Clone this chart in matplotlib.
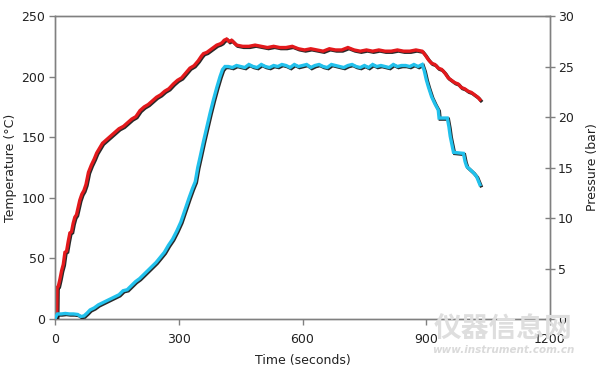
import matplotlib
matplotlib.use("Agg")
import matplotlib.pyplot as plt
import matplotlib.patheffects as pe

# Temperature series (red, left axis)
temp_time = [0, 4, 5, 8, 12, 16, 20, 24, 28, 32, 36, 40, 44, 48, 52, 56, 60, 65, 70, 75,
             81, 88, 95, 101, 108, 115, 125, 135, 145, 155, 166, 176, 186, 196, 206, 216,
             226, 236, 246, 256, 266, 276, 287, 297, 307, 317, 327, 337, 347, 355, 360,
             368, 376, 384, 392, 400, 405, 410, 416, 422, 428, 434,
             440, 455, 470, 485, 500, 515, 530, 545, 560, 575, 590, 605, 620, 635, 650,
             665, 680, 695, 710, 725, 740, 755, 770, 785, 800, 815, 830, 845, 860, 875, 890,
             897, 905, 913, 921, 929, 937, 945, 953, 961, 969, 977, 985, 993, 1001, 1009,
             1017, 1025, 1030]
temp_vals = [0, 0, 26, 27, 33, 40, 45, 55, 56, 64, 71, 72, 79, 84, 86, 92, 98, 103, 106, 111,
             121, 127, 132, 137, 141, 145, 148, 151, 154, 157, 159, 162, 165, 167, 172, 175,
             177, 180, 183, 185, 188, 190, 194, 197, 199, 203, 207, 209, 213, 217, 219,
             220, 222, 224, 226, 227, 228, 230, 231, 229, 230, 228,
             226, 225, 225, 226, 225, 224, 225, 224, 224, 225, 223, 222, 223, 222, 221,
             223, 222, 222, 224, 222, 221, 222, 221, 222, 221, 221, 222, 221, 221, 222, 221,
             218, 214, 211, 210, 207, 206, 203, 199, 197, 195, 194, 191, 190, 188, 187,
             185, 183, 181]

# Pressure series (blue, right axis)
pres_time = [0, 3, 6, 15, 25, 35, 45, 55, 62, 70, 78, 85, 95, 105, 115, 125, 135, 145, 155,
             165, 175, 185, 195, 205, 215, 225, 235, 245, 255, 265, 275, 285, 295, 305, 315,
             325, 333, 340, 346, 352, 360, 368, 376, 384, 392, 400, 406, 412,
             420, 430, 440, 450, 460, 470, 480, 490, 500, 510, 520, 530, 540, 550, 560, 570,
             580, 590, 600, 610, 620, 630, 640, 650, 660, 670, 680, 690, 700, 710, 720, 730,
             740, 750, 760, 770, 780, 790, 800, 810, 820, 830, 840, 850, 860, 870, 880, 890,
             895, 900, 905, 913, 921, 929, 931, 951, 955, 958, 962, 966, 990, 994, 998, 1006,
             1014, 1022, 1026, 1030]
pres_vals = [0, 0.3, 0.5, 0.5, 0.55, 0.5, 0.5, 0.45, 0.25, 0.3, 0.6, 0.9, 1.1, 1.4, 1.6, 1.8,
             2.0, 2.2, 2.4, 2.8, 2.9, 3.3, 3.7, 4.0, 4.4, 4.8, 5.2, 5.6, 6.1, 6.6, 7.3, 7.9,
             8.7, 9.6, 10.8, 12.0, 12.9, 13.6, 15.0, 16.1, 17.6, 19.0, 20.4, 21.7, 22.9, 24.0,
             24.7, 25.0,
             25.0, 24.9, 25.1, 25.0, 24.9, 25.2, 25.0, 24.9, 25.2, 25.0, 24.9, 25.1, 25.0, 25.2,
             25.1, 24.9, 25.2, 25.0, 25.1, 25.2, 24.9, 25.1, 25.2, 25.0, 24.9, 25.2, 25.1, 25.0,
             24.9, 25.1, 25.2, 25.0, 24.9, 25.1, 24.9, 25.2, 25.0, 25.1, 25.0, 24.9, 25.2, 25.0,
             25.1, 25.1, 25.0, 25.2, 25.0, 25.2,
             24.6, 23.7, 23.0, 22.0, 21.3, 20.7, 19.9, 19.9, 19.0, 18.1, 17.3, 16.5, 16.4, 15.6,
             15.1, 14.8, 14.5, 14.1, 13.7, 13.3]

x_ticks = [0, 300, 600, 900, 1200]
t_ticks = [0, 50, 100, 150, 200, 250]
p_ticks = [0, 5, 10, 15, 20, 25, 30]

RED = "#e3191c"
BLUE = "#22c1ec"
GRAY = "#808080"
TXT = "#222222"
FS = 9

fig = plt.figure(figsize=(6.0, 3.76), dpi=100)
ax = fig.add_axes([0.0917, 0.1516, 0.825, 0.8058])
ax2 = ax.twinx()

shadow = [pe.SimpleLineShadow(offset=(0.8, -0.8), shadow_color="#111111", alpha=0.9),
          pe.Normal()]

ax.plot(temp_time, temp_vals, color=RED, lw=2.4, solid_joinstyle="miter",
        path_effects=shadow, zorder=3)
ax2.plot(pres_time, pres_vals, color=BLUE, lw=2.4, solid_joinstyle="miter",
         path_effects=shadow, zorder=3)

ax.set_xlim(0, 1200)
ax.set_ylim(0, 250)
ax2.set_ylim(0, 30)
ax.set_xticks(x_ticks)
ax.set_yticks(t_ticks)
ax2.set_yticks(p_ticks)

for a in (ax, ax2):
    for s in a.spines.values():
        s.set_color(GRAY)
        s.set_linewidth(1.0)

ax.tick_params(axis="both", direction="out", length=4, width=1, color=GRAY,
               labelsize=FS, labelcolor=TXT, pad=3)
ax.tick_params(axis="x", pad=6)
ax2.tick_params(axis="y", direction="inout", length=7, width=1, color=GRAY,
                labelsize=FS, labelcolor=TXT, pad=2)

ax.set_xlabel("Time (seconds)", fontsize=FS, color=TXT, labelpad=6)
ax.set_ylabel("Temperature (°C)", fontsize=FS, color=TXT, labelpad=3)
ax2.set_ylabel("Pressure (bar)", fontsize=FS, color=TXT, labelpad=9)

# faint watermark
fig.text(0.838, 0.122, "仪器信息网", fontsize=20, color="#dedede", fontweight="bold",
         style="italic", family=["Noto Sans CJK SC", "DejaVu Sans"],
         ha="center", va="center", zorder=0)
fig.text(0.838, 0.068, "www.instrument.com.cn", fontsize=7.5, color="#dadada",
         fontweight="bold", style="italic", ha="center", va="center", zorder=0)

fig.savefig("out.png", dpi=100)
